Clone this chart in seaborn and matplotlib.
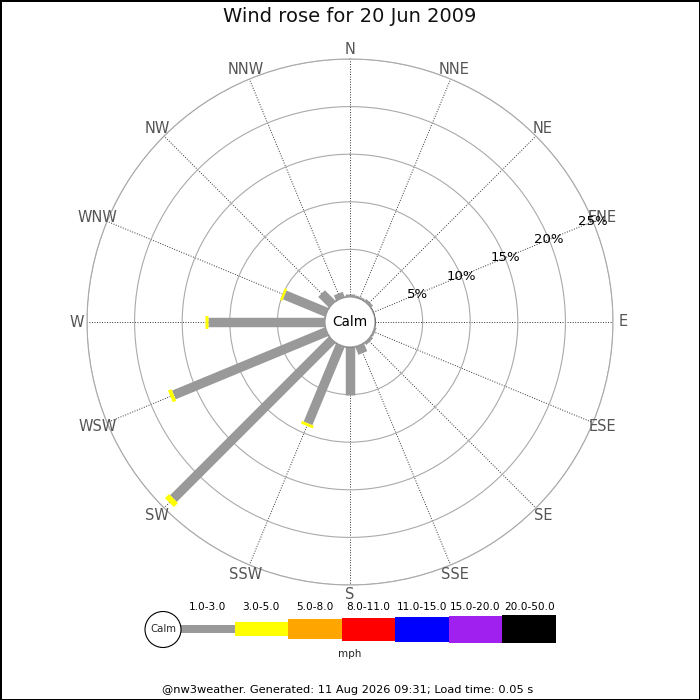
"""Wind rose for a single day, nw3weather style."""

import matplotlib
matplotlib.use("Agg")

import matplotlib.patches as mpatches
import matplotlib.pyplot as plt
import numpy as np
import seaborn as sns

# ---------------------------------------------------------------------------
# Data
# ---------------------------------------------------------------------------

DIRECTIONS = ["N", "NNE", "NE", "ENE", "E", "ESE", "SE", "SSE",
              "S", "SSW", "SW", "WSW", "W", "WNW", "NW", "NNW"]

# percent of the day in each direction, split by speed band
PCT_1_3 = [0.3, 0.2, 0.3, 0.0, 0.0, 0.2, 0.3, 0.9,
           5.0, 8.9, 23.6, 17.4, 12.3, 4.8, 1.6, 0.6]
PCT_3_5 = [0.0, 0.0, 0.0, 0.0, 0.0, 0.0, 0.0, 0.0,
           0.0, 0.3, 0.6, 0.4, 0.35, 0.25, 0.0, 0.0]

RING_PCT    = [5, 10, 15, 20, 25]
RING_LABELS = ["5%", "10%", "15%", "20%", "25%"]

BAND_LABELS = ["1.0-3.0", "3.0-5.0", "5.0-8.0", "8.0-11.0",
               "11.0-15.0", "15.0-20.0", "20.0-50.0"]
BAND_COLORS = ["#999999", "#ffff00", "#ffa500", "#ff0000",
               "#0000ff", "#a020f0", "#000000"]

TITLE  = "Wind rose for 20 Jun 2009"
FOOTER = "@nw3weather. Generated: 11 Aug 2026 09:31; Load time: 0.05 s"

# ---------------------------------------------------------------------------
# Layout / style
# ---------------------------------------------------------------------------

_PX = 700.0
_CX, _CY = 350, 322          # rose centre, pixels
_R_OUTER = 263               # 25% ring, pixels
_R_CALM = 25                 # calm circle, pixels
_RMAX = 25
_RORIGIN = _R_CALM * _RMAX / (_R_OUTER - _R_CALM)

_LEG_HEIGHTS = [8, 14, 20, 23, 25, 27, 28]   # legend bar thickness, px
_BAR_LW = [6.8, 9.2]                          # rose bar widths, pt

sns.set_theme(style="white")
plt.rcParams["font.family"] = ["DejaVu Sans"]

fig = plt.figure(figsize=(7, 7), dpi=100)
fig.patch.set_facecolor("white")
fig.patch.set_edgecolor("black")
fig.patch.set_linewidth(2)

# ---------------------------------------------------------------------------
# Rose
# ---------------------------------------------------------------------------

side = 2 * _R_OUTER / _PX
ax = fig.add_axes([_CX / _PX - side / 2, 1 - _CY / _PX - side / 2, side, side],
                  projection="polar")
ax.set_theta_zero_location("N")
ax.set_theta_direction(-1)
ax.set_ylim(0, _RMAX)
ax.set_rorigin(-_RORIGIN)

theta = np.deg2rad(np.arange(len(DIRECTIONS)) * 22.5)
ax.set_xticks(theta)
ax.set_xticklabels([])
ax.set_yticks(RING_PCT)
ax.set_yticklabels([])
ax.xaxis.grid(True, color="#333333", lw=0.7, linestyle=(0, (1, 1.6)))
ax.yaxis.grid(True, color="#aaaaaa", lw=0.8, linestyle="-")
ax.spines["polar"].set_color("#aaaaaa")
ax.spines["polar"].set_linewidth(0.8)
ax.spines["inner"].set_visible(False)
ax.tick_params(pad=0, length=0)

base = np.zeros(len(DIRECTIONS))
for band, (vals, lw) in enumerate(zip([PCT_1_3, PCT_3_5], _BAR_LW)):
    for t, b, v in zip(theta, base, vals):
        if v > 0:
            ax.plot([t, t], [b, b + v], color=BAND_COLORS[band], lw=lw,
                    solid_capstyle="butt", zorder=3 + band)
    base = base + np.array(vals)

for t, name in zip(theta, DIRECTIONS):
    ax.text(t, 26.05, name, ha="center", va="center", fontsize=10.5,
            color="#555555")

for r, lab in zip(RING_PCT, RING_LABELS):
    ax.text(np.deg2rad(67.5), r, lab, ha="center", va="center",
            fontsize=9.5, color="black", zorder=6)

calm_r = _R_CALM / (2 * _R_OUTER)
ax.add_patch(mpatches.Circle((0.5, 0.5), calm_r, transform=ax.transAxes,
                             facecolor="white", edgecolor="#999999",
                             lw=0.8, zorder=8, clip_on=False))
ax.text(0.5, 0.5, "Calm", transform=ax.transAxes, ha="center", va="center",
        fontsize=9.8, color="black", zorder=9)

# ---------------------------------------------------------------------------
# Speed legend
# ---------------------------------------------------------------------------

leg_left, leg_right = 181, 556
leg_top, leg_bot = 599, 659
lax = fig.add_axes([leg_left / _PX, 1 - leg_bot / _PX,
                    (leg_right - leg_left) / _PX, (leg_bot - leg_top) / _PX])
lax.set_xlim(0, len(BAND_LABELS))
lax.set_ylim(-30, 30)
lax.axis("off")
lax.bar(np.arange(len(BAND_LABELS)), _LEG_HEIGHTS,
        bottom=[-h / 2 for h in _LEG_HEIGHTS], width=1.0, align="edge",
        color=BAND_COLORS, edgecolor="none")
for i, lab in enumerate(BAND_LABELS):
    lax.text(i + 0.5, 22, lab, ha="center", va="center", fontsize=7.6,
             color="black")

fig.add_artist(mpatches.Circle((163 / _PX, 1 - 629.5 / _PX), 18 / _PX,
                               transform=fig.transFigure, facecolor="white",
                               edgecolor="black", lw=0.8))
fig.text(163 / _PX, 1 - 629.5 / _PX, "Calm", ha="center", va="center",
         fontsize=7.3)
fig.text(350 / _PX, 1 - 654 / _PX, "mph", ha="center", va="center",
         fontsize=7.5)

# ---------------------------------------------------------------------------
# Title / footer
# ---------------------------------------------------------------------------

fig.text(0.5, 1 - 17 / _PX, TITLE, ha="center", va="center", fontsize=14,
         color="#111111")
fig.text(348 / _PX, 1 - 690 / _PX, FOOTER, ha="center", va="center",
         fontsize=8.2, color="black")

fig.savefig("out.png", dpi=100, facecolor=fig.get_facecolor(),
            edgecolor=fig.get_edgecolor())
